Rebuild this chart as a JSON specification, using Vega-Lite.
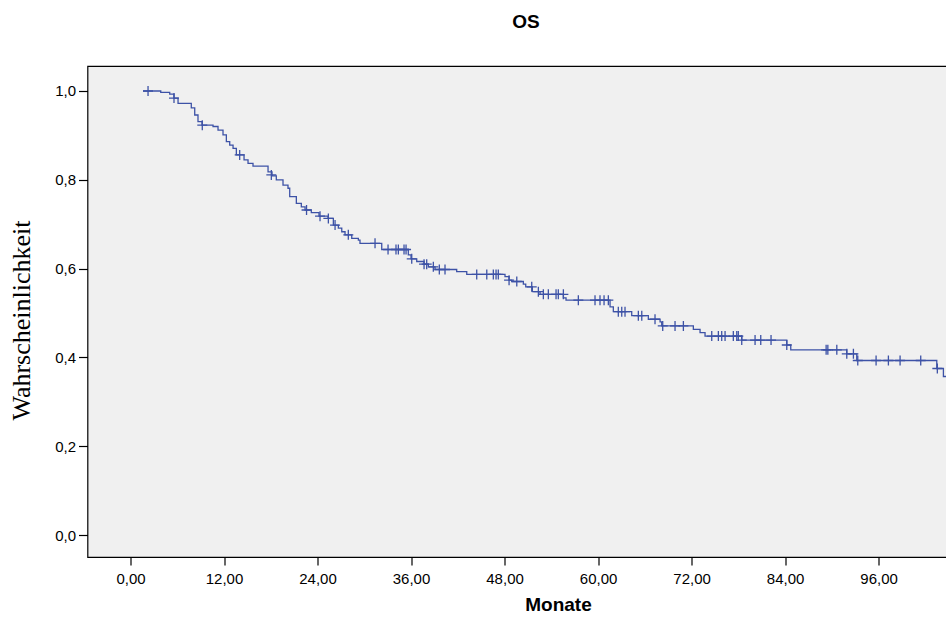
{
  "$schema": "https://vega.github.io/schema/vega-lite/v6.json",
  "width": 941,
  "height": 491,
  "autosize": "none",
  "padding": {"left": 87.5, "top": 66, "right": 0, "bottom": 64},
  "background": "white",
  "config": {
    "view": {"fill": "#f0f0f0", "stroke": "black", "strokeWidth": 1.2},
    "font": "Liberation Sans"
  },
  "title": {"text": "OS", "fontSize": 19, "fontWeight": "bold", "font": "Liberation Sans", "color": "black", "anchor": "middle", "offset": 34, "dx": -32},
  "datasets": {
    "km": [
      {"t": 1.60, "s": 1.0}, {"t": 3.88, "s": 0.997}, {"t": 5.03, "s": 0.993}, {"t": 5.58, "s": 0.984},
      {"t": 6.10, "s": 0.972}, {"t": 7.80, "s": 0.962}, {"t": 8.24, "s": 0.946}, {"t": 8.66, "s": 0.931},
      {"t": 9.18, "s": 0.923}, {"t": 10.59, "s": 0.92}, {"t": 11.23, "s": 0.912}, {"t": 11.87, "s": 0.901},
      {"t": 12.30, "s": 0.886}, {"t": 12.73, "s": 0.878}, {"t": 13.16, "s": 0.871}, {"t": 13.58, "s": 0.856},
      {"t": 14.57, "s": 0.845}, {"t": 15.08, "s": 0.837}, {"t": 15.72, "s": 0.831}, {"t": 17.65, "s": 0.818},
      {"t": 18.16, "s": 0.809}, {"t": 18.71, "s": 0.8}, {"t": 19.57, "s": 0.788}, {"t": 20.21, "s": 0.781},
      {"t": 20.43, "s": 0.762}, {"t": 21.28, "s": 0.747}, {"t": 21.92, "s": 0.739}, {"t": 22.40, "s": 0.732},
      {"t": 23.20, "s": 0.726}, {"t": 24.19, "s": 0.718}, {"t": 25.35, "s": 0.713}, {"t": 26.03, "s": 0.698},
      {"t": 26.67, "s": 0.691}, {"t": 27.11, "s": 0.683}, {"t": 27.53, "s": 0.676}, {"t": 28.39, "s": 0.668},
      {"t": 29.24, "s": 0.664}, {"t": 29.45, "s": 0.657}, {"t": 32.24, "s": 0.643}, {"t": 35.65, "s": 0.631},
      {"t": 36.00, "s": 0.622}, {"t": 36.73, "s": 0.616}, {"t": 37.67, "s": 0.61}, {"t": 38.22, "s": 0.604},
      {"t": 39.08, "s": 0.598}, {"t": 41.86, "s": 0.593}, {"t": 43.15, "s": 0.587}, {"t": 48.06, "s": 0.582},
      {"t": 48.58, "s": 0.574}, {"t": 48.92, "s": 0.571}, {"t": 50.41, "s": 0.565}, {"t": 50.72, "s": 0.559},
      {"t": 51.57, "s": 0.548}, {"t": 52.56, "s": 0.542}, {"t": 55.55, "s": 0.534}, {"t": 55.89, "s": 0.529},
      {"t": 61.54, "s": 0.514}, {"t": 61.96, "s": 0.503}, {"t": 64.32, "s": 0.494}, {"t": 66.45, "s": 0.486},
      {"t": 67.96, "s": 0.48}, {"t": 68.17, "s": 0.471}, {"t": 72.23, "s": 0.463}, {"t": 73.09, "s": 0.456},
      {"t": 73.73, "s": 0.448}, {"t": 78.44, "s": 0.439}, {"t": 84.22, "s": 0.428}, {"t": 84.73, "s": 0.417},
      {"t": 91.92, "s": 0.408}, {"t": 93.20, "s": 0.393}, {"t": 103.47, "s": 0.375}, {"t": 104.32, "s": 0.357},
      {"t": 105.5, "s": 0.357}
    ],
    "cens": [
      {"t": 2.25, "s": 1.0}, {"t": 5.58, "s": 0.984}, {"t": 9.21, "s": 0.923}, {"t": 14.01, "s": 0.856},
      {"t": 18.07, "s": 0.811}, {"t": 22.59, "s": 0.732}, {"t": 24.32, "s": 0.718}, {"t": 25.39, "s": 0.713},
      {"t": 26.25, "s": 0.698}, {"t": 27.95, "s": 0.676}, {"t": 31.38, "s": 0.657}, {"t": 33.05, "s": 0.643},
      {"t": 34.07, "s": 0.643}, {"t": 34.37, "s": 0.643}, {"t": 35.10, "s": 0.643}, {"t": 35.36, "s": 0.643},
      {"t": 36.09, "s": 0.622}, {"t": 37.67, "s": 0.61}, {"t": 38.01, "s": 0.61}, {"t": 38.86, "s": 0.604},
      {"t": 39.63, "s": 0.598}, {"t": 40.36, "s": 0.598}, {"t": 44.43, "s": 0.587}, {"t": 45.72, "s": 0.587},
      {"t": 46.56, "s": 0.587}, {"t": 46.91, "s": 0.587}, {"t": 47.20, "s": 0.587}, {"t": 48.58, "s": 0.574},
      {"t": 49.57, "s": 0.571}, {"t": 51.49, "s": 0.559}, {"t": 52.34, "s": 0.548}, {"t": 52.98, "s": 0.542},
      {"t": 53.62, "s": 0.542}, {"t": 54.61, "s": 0.542}, {"t": 54.90, "s": 0.542}, {"t": 55.55, "s": 0.542},
      {"t": 57.47, "s": 0.529}, {"t": 59.61, "s": 0.529}, {"t": 60.25, "s": 0.529}, {"t": 60.77, "s": 0.529},
      {"t": 61.32, "s": 0.529}, {"t": 62.60, "s": 0.503}, {"t": 63.04, "s": 0.503}, {"t": 63.46, "s": 0.503},
      {"t": 65.17, "s": 0.494}, {"t": 65.61, "s": 0.494}, {"t": 67.31, "s": 0.486}, {"t": 68.30, "s": 0.471},
      {"t": 69.88, "s": 0.471}, {"t": 70.95, "s": 0.471}, {"t": 74.59, "s": 0.448}, {"t": 75.44, "s": 0.448},
      {"t": 75.87, "s": 0.448}, {"t": 76.30, "s": 0.448}, {"t": 77.36, "s": 0.448}, {"t": 77.80, "s": 0.448},
      {"t": 78.00, "s": 0.448}, {"t": 78.44, "s": 0.439}, {"t": 80.15, "s": 0.439}, {"t": 80.88, "s": 0.439},
      {"t": 82.20, "s": 0.439}, {"t": 84.22, "s": 0.428}, {"t": 89.27, "s": 0.417}, {"t": 89.49, "s": 0.417},
      {"t": 90.64, "s": 0.417}, {"t": 91.92, "s": 0.408}, {"t": 92.77, "s": 0.408}, {"t": 93.33, "s": 0.393},
      {"t": 95.68, "s": 0.393}, {"t": 97.26, "s": 0.393}, {"t": 98.76, "s": 0.393}, {"t": 101.41, "s": 0.393},
      {"t": 103.54, "s": 0.375}
    ]
  },
  "encoding": {
    "x": {
      "field": "t", "type": "quantitative",
      "scale": {"domain": [-5.52, 115.24], "nice": false, "zero": false},
      "axis": {
        "values": [0, 12, 24, 36, 48, 60, 72, 84, 96],
        "labelExpr": "replace(format(datum.value, '.2f'), '.', ',')",
        "title": "Monate", "titleFontSize": 19, "titleFontWeight": "bold", "titleColor": "black",
        "titlePadding": 9,
        "grid": false, "domain": false, "tickColor": "black", "tickSize": 8, "tickWidth": 1.2,
        "labelColor": "black", "labelFontSize": 15, "labelPadding": 6
      }
    },
    "y": {
      "field": "s", "type": "quantitative",
      "scale": {"domain": [-0.0495, 1.0563], "nice": false, "zero": false},
      "axis": {
        "values": [0, 0.2, 0.4, 0.6, 0.8, 1.0],
        "labelExpr": "replace(format(datum.value, '.1f'), '.', ',')",
        "title": "Wahrscheinlichkeit", "titleFont": "Liberation Serif", "titleFontSize": 26,
        "titleFontWeight": "normal", "titleColor": "black", "titlePadding": 20, "titleY": 254,
        "grid": false, "domain": false, "tickColor": "black", "tickSize": 9, "tickWidth": 1.2,
        "labelColor": "black", "labelFontSize": 15, "labelPadding": 3
      }
    }
  },
  "layer": [
    {
      "data": {"name": "km"},
      "mark": {"type": "line", "interpolate": "step-after", "color": "#3d52a6", "strokeWidth": 1.3, "clip": true}
    },
    {
      "data": {"name": "cens"},
      "mark": {"type": "point", "shape": "M-1,0H1M0,-1V1", "filled": false, "color": "#3d52a6", "size": 100, "strokeWidth": 1.3, "opacity": 1, "clip": true}
    }
  ]
}
